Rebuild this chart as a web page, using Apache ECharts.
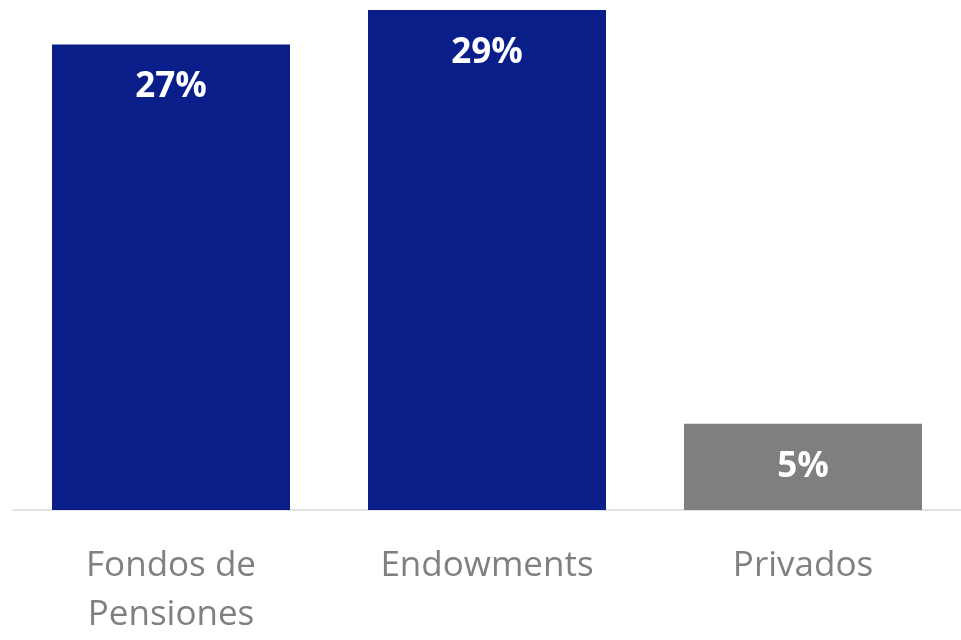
<!DOCTYPE html>
<html>
<head>
<meta charset="utf-8">
<script src="https://cdn.jsdelivr.net/npm/echarts@6/dist/echarts.min.js"></script>
<style>
html,body{margin:0;padding:0;background:#fff;}
#chart{width:961px;height:640px;}
</style>
</head>
<body>
<div id="chart"></div>
<script>
const categories = ['Fondos de\nPensiones', 'Endowments', 'Privados'];
const values = [27, 29, 5];
const labelSuffix = '%';

const barColors = ['#0A1E8A', '#0A1E8A', '#7F7F7F'];

const chart = echarts.init(document.getElementById('chart'));
chart.setOption({
  animation: false,
  backgroundColor: '#ffffff',
  grid: { left: 13, width: 961, top: 0, bottom: 123, containLabel: false },
  xAxis: {
    type: 'category',
    data: categories,
    axisLine: { show: true, lineStyle: { color: '#D9D9D9', width: 1.5 } },
    axisTick: { show: false },
    axisLabel: {
      color: '#808080',
      fontFamily: 'Open Sans',
      fontSize: 35,
      lineHeight: 49,
      margin: 32,
      interval: 0
    }
  },
  yAxis: {
    type: 'value',
    min: 0,
    max: 29.58,
    show: false,
    splitLine: { show: false }
  },
  series: [{
    type: 'bar',
    barWidth: 238,
    data: values.map((v, i) => ({ value: v, itemStyle: { color: barColors[i] } })),
    label: {
      show: true,
      position: 'insideTop',
      distance: 25,
      color: '#ffffff',
      fontFamily: 'Open Sans',
      fontWeight: 'bold',
      fontSize: 35,
      lineHeight: 36,
      formatter: p => p.value + labelSuffix
    }
  }]
});
</script>
</body>
</html>
